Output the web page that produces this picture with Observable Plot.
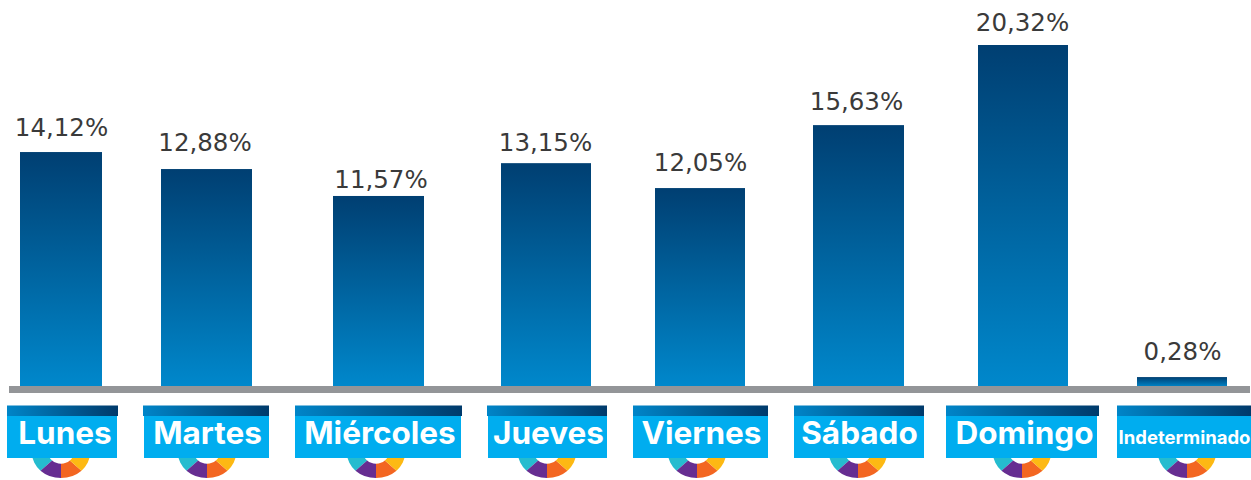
<!DOCTYPE html>
<html>
<head>
<meta charset="utf-8">
<script src="https://cdn.jsdelivr.net/npm/d3@7"></script>
<script src="https://cdn.jsdelivr.net/npm/@observablehq/plot@0.6"></script>
<style>html,body{margin:0;padding:0;background:#fff}svg{display:block}</style>
</head>
<body>
<div id="chart"></div>
<script>
const days = ["Lunes","Martes","Miércoles","Jueves","Viernes","Sábado","Domingo","Indeterminado"];
const labels = ["14,12%","12,88%","11,57%","13,15%","12,05%","15,63%","20,32%","0,28%"];
// bar heights as drawn in the picture, in percent units
const drawn = [13.96,12.95,11.35,13.3,11.82,15.56,20.32,0.59];
const barLeft = [20,161,333,501,655,813,978,1137];
const barRight = [102,252,424,591,745,904,1068,1227];
const labelCentre = [61,204.5,380.5,545,700,856,1022,1182];
const labelGap = [24,26,16,20,25,23,22,25];
const tagLeft = [7,144,295,488,633,794,946,1117];
const tagRight = [117,269,461,607,768,924,1097,1251];
const stripLeft = [7,143,295,487,633,794,946,1117];
const stripRight = [118,269,462,607,768,924,1099,1251];
const tagTextCentre = [64.5,207,379.5,548,701,859,1024,1184];
const wheelCentre = [61,207,376,547,697,858,1022,1187];
const tagSize = [31.5,31.5,31.5,31.5,31.5,31.5,31.5,18.5];
const wheelColors = ["#25bccf","#662d91","#f36621","#fdb913"];
// wedge limits in eighths of a turn, clockwise from the top
const wedgeFrom = [5,4,3,1];
const wedgeTo = [7,5,4,3];

const pxPerUnit = 342/20.32;
const below = px => -px/pxPerUnit;
const rows = days.map((day,i)=>({day,label:labels[i],v:drawn[i],l:barLeft[i],r:barRight[i],
  lc:labelCentre[i],ly:drawn[i]+labelGap[i]/pxPerUnit,
  tl:tagLeft[i],tr:tagRight[i],sl:stripLeft[i],sr:stripRight[i],tc:tagTextCentre[i],c:wheelCentre[i],fs:tagSize[i]}));

const defs = () => {
  const d = d3.create("svg:defs");
  const g = d.append("linearGradient").attr("id","barGrad").attr("x1",0).attr("y1",0).attr("x2",0).attr("y2",1);
  g.append("stop").attr("offset","0%").attr("stop-color","#003f72");
  g.append("stop").attr("offset","100%").attr("stop-color","#0088cc");
  const s = d.append("linearGradient").attr("id","stripGrad").attr("x1",0).attr("y1",0).attr("x2",1).attr("y2",0);
  s.append("stop").attr("offset","0%").attr("stop-color","#0085c8");
  s.append("stop").attr("offset","100%").attr("stop-color","#003a6b");
  return d.node();
};

const wheels = (index,{x,y}) => {
  const g = d3.create("svg:g");
  const arc = d3.arc().innerRadius(12.5).outerRadius(29);
  for (const row of rows) {
    wheelColors.forEach((color,k)=>{
      g.append("path")
        .attr("transform",`translate(${x(row.c)},${y(below(66))}) scale(1,0.86)`)
        .attr("d",arc({startAngle:wedgeFrom[k]*Math.PI/4,endAngle:wedgeTo[k]*Math.PI/4}))
        .attr("fill",color);
    });
  }
  return g.node();
};

const plot = Plot.plot({
  width:1251,height:480,
  marginTop:0,marginRight:0,marginBottom:0,marginLeft:0,
  x:{domain:[0,1251],range:[0,1251],axis:null},
  y:{domain:[0,20.32],range:[387,45],axis:null},
  marks:[
    defs,
    Plot.rectY(rows,{x1:"l",x2:"r",y1:0,y2:"v",fill:"url(#barGrad)"}),
    Plot.rect([0],{x1:9,x2:1250,y1:below(-1),y2:below(6),fill:"#939598"}),
    Plot.text(rows,{x:"lc",y:"ly",text:"label",fontSize:24.5,fill:"#3a3a3a",fontFamily:"DejaVu Sans",textAnchor:"middle"}),
    wheels,
    Plot.rect(rows,{x1:"tl",x2:"tr",y1:below(29),y2:below(71),fill:"#00adef"}),
    Plot.rect(rows,{x1:"sl",x2:"sr",y1:below(18.5),y2:below(29),fill:"url(#stripGrad)"}),
    Plot.text(rows,{x:"tc",y:below(56.5),text:"day",fontSize:"fs",fontWeight:700,fill:"#fff",fontFamily:"Inter",textAnchor:"middle",lineAnchor:"bottom"})
  ]
});
document.getElementById("chart").append(plot);
</script>
</body>
</html>
